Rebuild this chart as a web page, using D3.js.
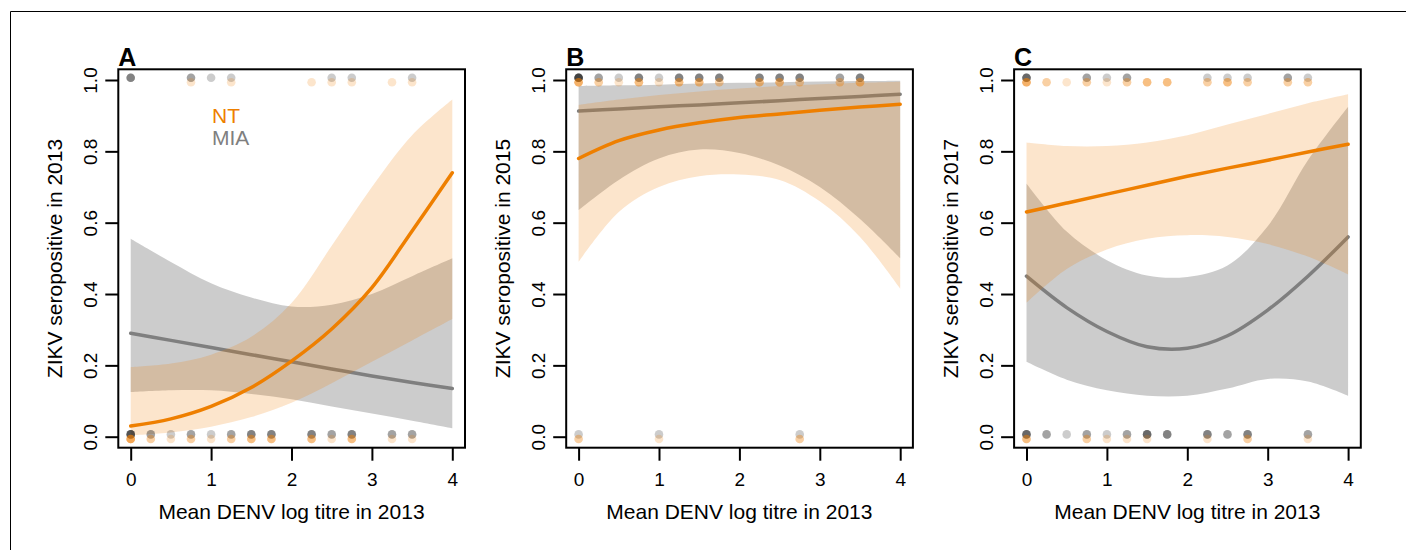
<!DOCTYPE html>
<html lang="en">
<head>
<meta charset="UTF-8">
<title>ZIKV seropositivity vs DENV titre</title>
<script src="https://d3js.org/d3.v7.min.js"></script>
<style>
  body { margin: 0; background: #fff; }
  text { font-family: "Liberation Sans", Arial, Helvetica, sans-serif; }
</style>
</head>
<body>
<div id="chart"></div>
<script>
// ---- data ----
var panelLetters = ["A", "B", "C"];
var panelYears = ["2013", "2015", "2017"];
var xTicks = [0, 1, 2, 3, 4];
var yTicks = [0, 0.2, 0.4, 0.6, 0.8, 1.0];

// titre grid of the observations
var titre = [0, 0.25, 0.5, 0.75, 1, 1.25, 1.5, 1.75, 2, 2.25, 2.5, 2.75, 3, 3.25, 3.5];
// grid for fitted curves
var fitX = [0, 0.5, 1, 1.5, 2, 2.5, 3, 3.5, 4];

// Panel A (2013)
var ntFitA  = [0.03, 0.05, 0.085, 0.138, 0.212, 0.302, 0.418, 0.577, 0.74];
var ntLoA   = [0.004, 0.012, 0.028, 0.055, 0.095, 0.15, 0.21, 0.27, 0.33];
var ntHiA   = [0.195, 0.205, 0.23, 0.28, 0.375, 0.535, 0.70, 0.845, 0.945];
var miaFitA = [0.29, 0.27, 0.25, 0.23, 0.21, 0.19, 0.17, 0.152, 0.135];
var miaLoA  = [0.125, 0.13, 0.13, 0.12, 0.105, 0.085, 0.065, 0.045, 0.024];
var miaHiA  = [0.555, 0.49, 0.43, 0.39, 0.365, 0.37, 0.40, 0.45, 0.50];
// counts of individuals at each titre (negative = 0, positive = 1)
var ntNegA  = [5, 2, 1, 2, 1, 2, 3, 3, 0, 3, 1, 3, 0, 1, 1];
var ntPosA  = [0, 0, 0, 1, 0, 1, 0, 0, 0, 1, 1, 1, 0, 1, 1];
var miaNegA = [5, 2, 1, 2, 1, 2, 3, 3, 0, 3, 2, 3, 0, 2, 2];
var miaPosA = [3, 0, 0, 2, 1, 1, 0, 0, 0, 0, 1, 1, 0, 0, 1];

// Panel B (2015)
var ntFitB  = [0.78, 0.83, 0.86, 0.88, 0.895, 0.905, 0.915, 0.924, 0.932];
var ntLoB   = [0.49, 0.63, 0.70, 0.73, 0.735, 0.72, 0.66, 0.56, 0.415];
var ntHiB   = [0.93, 0.945, 0.958, 0.968, 0.976, 0.983, 0.988, 0.992, 0.995];
var miaFitB = [0.913, 0.919, 0.925, 0.93, 0.936, 0.942, 0.948, 0.954, 0.96];
var miaLoB  = [0.635, 0.72, 0.78, 0.805, 0.795, 0.76, 0.70, 0.61, 0.50];
var miaHiB  = [0.983, 0.985, 0.987, 0.99, 0.992, 0.994, 0.996, 0.997, 0.998];
var ntNegB  = [2, 0, 0, 0, 1, 0, 0, 0, 0, 0, 0, 2, 0, 0, 0];
var ntPosB  = [4, 2, 1, 3, 1, 3, 3, 2, 0, 3, 3, 2, 0, 2, 3];
var miaNegB = [1, 0, 0, 0, 1, 0, 0, 0, 0, 0, 0, 1, 0, 0, 0];
var miaPosB = [6, 2, 1, 3, 1, 3, 3, 3, 0, 3, 3, 3, 0, 2, 3];

// Panel C (2017)
var ntFitC  = [0.63, 0.655, 0.68, 0.705, 0.73, 0.753, 0.775, 0.798, 0.82];
var ntLoC   = [0.375, 0.47, 0.525, 0.555, 0.565, 0.56, 0.54, 0.505, 0.455];
var ntHiC   = [0.825, 0.815, 0.815, 0.825, 0.845, 0.875, 0.905, 0.935, 0.96];
var miaFitC = [0.45, 0.362, 0.295, 0.252, 0.248, 0.283, 0.355, 0.45, 0.56];
var miaLoC  = [0.21, 0.16, 0.13, 0.115, 0.115, 0.135, 0.162, 0.155, 0.115];
var miaHiC  = [0.71, 0.575, 0.495, 0.452, 0.448, 0.48, 0.59, 0.775, 0.925];
var ntNegC  = [3, 0, 0, 2, 1, 1, 1, 0, 0, 1, 0, 2, 0, 0, 1];
var ntPosC  = [4, 2, 1, 2, 1, 2, 3, 3, 0, 2, 3, 2, 0, 2, 2];
var miaNegC = [4, 2, 1, 2, 1, 2, 4, 3, 0, 3, 2, 3, 0, 0, 2];
var miaPosC = [4, 0, 0, 2, 1, 2, 0, 0, 0, 1, 1, 1, 0, 2, 1];

var panels = [
    {nt: [ntFitA, ntLoA, ntHiA], mia: [miaFitA, miaLoA, miaHiA],
     ntPts: [ntNegA, ntPosA], miaPts: [miaNegA, miaPosA]},
    {nt: [ntFitB, ntLoB, ntHiB], mia: [miaFitB, miaLoB, miaHiB],
     ntPts: [ntNegB, ntPosB], miaPts: [miaNegB, miaPosB]},
    {nt: [ntFitC, ntLoC, ntHiC], mia: [miaFitC, miaLoC, miaHiC],
     ntPts: [ntNegC, ntPosC], miaPts: [miaNegC, miaPosC]}
];

// ---- layout ----
var width = 1406, height = 550;
var boxLeft0 = 118.3, boxStep = 447.9, boxW = 346.7,
    boxTop = 69.3, boxBottom = 447.7;

var ntColor = "#EE7F00", miaColor = "#7F7F7F";

var svg = d3.select("#chart")
    .append("svg")
        .attr("width", width)
        .attr("height", height);

// outer frame (top and left only)
svg.append("path")
    .attr("d", "M10.5,550 V11.5 H1406")
    .attr("fill", "none")
    .attr("stroke", "#000")
    .attr("stroke-width", 1);

// scales (panel-local x)
var x = d3.scaleLinear().domain([0, 4]).range([12.4, 334]);
var y = d3.scaleLinear().domain([0, 1]).range([436.7, 80]);

var curve = d3.curveCatmullRom.alpha(0.5);

var line = d3.line()
    .x(function(d, i) { return x(fitX[i]); })
    .y(function(d) { return y(d); })
    .curve(curve);

function band(lo, hi) {
    return d3.area()
        .x(function(d, i) { return x(fitX[i]); })
        .y0(function(d, i) { return y(lo[i]); })
        .y1(function(d, i) { return y(hi[i]); })
        .curve(curve)(fitX);
}

function points(counts, outcome) {
    var out = [];
    titre.forEach(function(t, i) {
        d3.range(counts[i]).forEach(function() { out.push({t: t, v: outcome}); });
    });
    return out;
}

panels.forEach(function(p, k) {
    var g = svg.append("g")
        .attr("transform", "translate(" + (boxLeft0 + k * boxStep) + ",0)");

    // MIA band and fit
    g.append("path")
        .attr("d", band(p.mia[1], p.mia[2]))
        .attr("fill", "#000")
        .attr("fill-opacity", 0.2);
    g.append("path")
        .attr("d", line(p.mia[0]))
        .attr("fill", "none")
        .attr("stroke", miaColor)
        .attr("stroke-width", 3.5)
        .attr("stroke-linecap", "round");

    // NT band and fit
    g.append("path")
        .attr("d", band(p.nt[1], p.nt[2]))
        .attr("fill", ntColor)
        .attr("fill-opacity", 0.2);
    g.append("path")
        .attr("d", line(p.nt[0]))
        .attr("fill", "none")
        .attr("stroke", ntColor)
        .attr("stroke-width", 3.5)
        .attr("stroke-linecap", "round");

    // observations: MIA slightly above, NT slightly below
    var miaPts = points(p.miaPts[0], 0).concat(points(p.miaPts[1], 1));
    var ntPts = points(p.ntPts[0], 0).concat(points(p.ntPts[1], 1));

    g.append("g").selectAll("circle")
        .data(miaPts)
        .enter()
        .append("circle")
            .attr("cx", function(d) { return x(d.t); })
            .attr("cy", function(d) { return y(d.v) - 2.3; })
            .attr("r", 4.3)
            .attr("fill", "#000")
            .attr("fill-opacity", 0.2);

    g.append("g").selectAll("circle")
        .data(ntPts)
        .enter()
        .append("circle")
            .attr("cx", function(d) { return x(d.t); })
            .attr("cy", function(d) { return y(d.v) + 2.3; })
            .attr("r", 4.3)
            .attr("fill", ntColor)
            .attr("fill-opacity", 0.2);

    // box
    g.append("rect")
        .attr("x", 0)
        .attr("y", boxTop)
        .attr("width", boxW)
        .attr("height", boxBottom - boxTop)
        .attr("fill", "none")
        .attr("stroke", "#000")
        .attr("stroke-width", 2);

    // x axis
    var xa = g.append("g")
        .attr("transform", "translate(0," + boxBottom + ")")
        .call(d3.axisBottom(x).tickValues(xTicks).tickSize(13).tickFormat(d3.format("d")));
    xa.select(".domain").remove();
    xa.selectAll("line").attr("stroke-width", 2);
    xa.selectAll("text")
        .attr("y", 38.3)
        .attr("dy", null)
        .style("font-size", "19px")
        .style("font-family", "'Liberation Sans', Arial, sans-serif");

    // y axis
    var ya = g.append("g")
        .call(d3.axisLeft(y).tickValues(yTicks).tickSize(13).tickFormat(d3.format(".1f")));
    ya.select(".domain").remove();
    ya.selectAll("line").attr("stroke-width", 2);
    ya.selectAll("text")
        .attr("x", null)
        .attr("dy", null)
        .attr("text-anchor", "middle")
        .attr("transform", "translate(-21.3,0) rotate(-90)")
        .style("font-size", "19px")
        .style("font-family", "'Liberation Sans', Arial, sans-serif");

    // axis titles
    g.append("text")
        .attr("x", x(2))
        .attr("y", 519.3)
        .attr("text-anchor", "middle")
        .style("font-size", "21px")
        .text("Mean DENV log titre in 2013");

    g.append("text")
        .attr("transform", "translate(-56.3," + ((boxTop + boxBottom) / 2) + ") rotate(-90)")
        .attr("text-anchor", "middle")
        .style("font-size", "21px")
        .text("ZIKV seropositive in " + panelYears[k]);

    // panel letter
    g.append("text")
        .attr("x", 0)
        .attr("y", 66)
        .style("font-size", "25px")
        .style("font-weight", "bold")
        .text(panelLetters[k]);

    // legend in first panel
    if (k === 0) {
        g.append("text")
            .attr("x", 93.7)
            .attr("y", 123.3)
            .attr("fill", ntColor)
            .style("font-size", "21px")
            .text("NT");
        g.append("text")
            .attr("x", 93.7)
            .attr("y", 145)
            .attr("fill", miaColor)
            .style("font-size", "21px")
            .text("MIA");
    }
});
</script>
</body>
</html>
